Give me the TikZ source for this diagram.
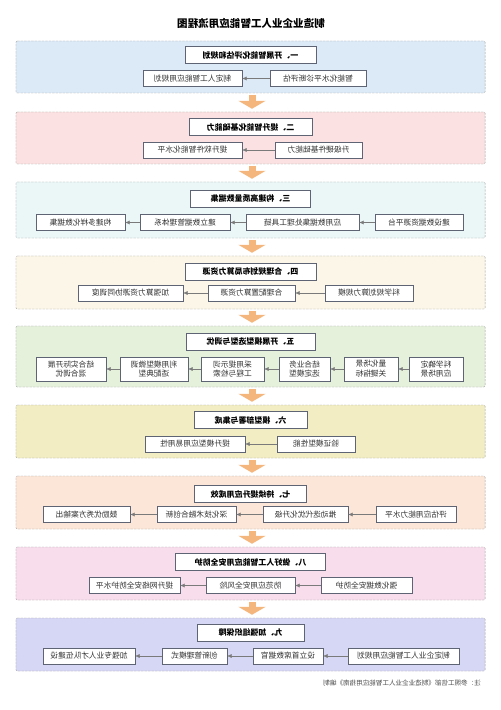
\documentclass[tikz,border=0pt]{standalone}
\usepackage{fontspec}
\setmainfont{Noto Sans CJK SC}
\usepackage{tikz}
\usetikzlibrary{arrows.meta}
\definecolor{boxline}{HTML}{5E6473}
\definecolor{flowgray}{HTML}{7A7A7A}
\definecolor{arroworange}{HTML}{F4B67C}
\definecolor{panelone}{HTML}{DCEAF7}
\definecolor{paneltwo}{HTML}{FBE1E1}
\definecolor{panelthree}{HTML}{EBF7F7}
\definecolor{panelfour}{HTML}{FBF6E7}
\definecolor{panelfive}{HTML}{E6F1DC}
\definecolor{panelsix}{HTML}{F2EDC2}
\definecolor{panelseven}{HTML}{FCE6D7}
\definecolor{paneleight}{HTML}{F8DDEC}
\definecolor{panelnine}{HTML}{D6D6F5}
\tikzstyle{panel} = [draw=gray!75, dash pattern=on 2pt off 1pt, minimum width=14.07cm, inner sep=0pt, rounded corners=1pt]
\tikzstyle{headbox} = [draw=boxline, fill=white, minimum height=0.5cm, inner sep=1pt, font=\bfseries\fontsize{6.8}{8}\selectfont]
\tikzstyle{subbox} = [draw=boxline, fill=white, minimum height=0.48cm, inner sep=1pt, text=black!80, font=\fontsize{6.6}{8}\selectfont]
\tikzstyle{twobox} = [subbox, minimum height=0.72cm, align=center, font=\fontsize{6.6}{8.4}\selectfont]
\tikzstyle{flow} = [draw=flowgray, -{Latex[length=1.3mm,width=1.2mm]}, color=flowgray]
\tikzstyle{bigarrow} = [draw=arroworange, line width=0.21cm, -{Triangle[length=0.24cm,width=0.81cm]}, shorten <=0.06cm, shorten >=0.09cm]

\begin{document}
\begin{tikzpicture}[x=0.03cm, y=-0.03cm, every node/.append style={xscale=-1}]
	\fill[white] (0,0) rectangle (500,710);
	\useasboundingbox (0,0) rectangle (500,710);
	\node[font=\bfseries\fontsize{9}{11}\selectfont] (title) at (251,23) {制造业企业人工智能应用流程图};

	\node[panel, fill=panelone, minimum height=1.56cm] (p1) at (250.5,67) {};
	\node[headbox, minimum width=3.93cm] (h1) at (250.5,55) {一、开展智能化评估和规划};
	\node[subbox, minimum width=2.88cm] (a1) at (318,78.5) {智能化水平诊断评估};
	\node[subbox, minimum width=2.97cm] (a2) at (192.5,78.5) {制定人工智能应用规划};
	\draw[flow] (a1) -- (a2);

	\node[panel, fill=paneltwo, minimum height=1.56cm] (p2) at (250.5,138) {};
	\node[headbox, minimum width=3.69cm] (h2) at (250.5,127) {二、提升智能化基础能力};
	\node[subbox, minimum width=2.61cm] (b1) at (318.5,150) {升级硬件基础能力};
	\node[subbox, minimum width=2.97cm] (b2) at (192.5,150) {提升软件智能化水平};
	\draw[flow] (b1) -- (b2);

	\node[panel, fill=panelthree, minimum height=1.68cm] (p3) at (250.5,210) {};
	\node[headbox, minimum width=3.6cm] (h3) at (250.5,198.5) {三、构建高质量数据集};
	\node[subbox, minimum width=2.64cm] (c1) at (419,222.5) {建设数据资源平台};
	\node[subbox, minimum width=3.39cm] (c2) at (302.5,222.5) {应用数据集处理工具链};
	\node[subbox, minimum width=2.7cm] (c3) at (185,222.5) {建立数据管理体系};
	\node[subbox, minimum width=2.67cm] (c4) at (80.5,222.5) {构建多样化数据集};
	\draw[flow] (c1) -- (c2);
	\draw[flow] (c2) -- (c3);
	\draw[flow] (c3) -- (c4);

	\node[panel, fill=panelfour, minimum height=1.59cm] (p4) at (250.5,282.5) {};
	\node[headbox, minimum width=3.93cm] (h4) at (250.5,271.5) {四、合理规划布局算力资源};
	\node[subbox, minimum width=2.64cm] (d1) at (369,293) {科学规划算力规模};
	\node[subbox, minimum width=2.61cm] (d2) at (251.5,293) {合理配置算力资源};
	\node[subbox, minimum width=3.15cm] (d3) at (130.5,293) {加强算力资源协同调度};
	\draw[flow] (d1) -- (d2);
	\draw[flow] (d2) -- (d3);

	\node[panel, fill=panelfive, minimum height=1.83cm] (p5) at (250.5,356.5) {};
	\node[headbox, minimum width=3.87cm] (h5) at (250.5,341.5) {五、开展模型选型与调优};
	\node[twobox, minimum width=1.62cm] (e1) at (436,369) {科学确定\\应用场景};
	\node[twobox, minimum width=1.62cm] (e2) at (371,369) {量化场景\\关键指标};
	\node[twobox, minimum width=1.53cm] (e3) at (304.5,369) {结合业务\\选定模型};
	\node[twobox, minimum width=1.89cm] (e4) at (232.5,369) {采用提示词\\工程与检索};
	\node[twobox, minimum width=2.04cm] (e5) at (154,369) {利用模型微调\\适配典型};
	\node[twobox, minimum width=2.1cm] (e6) at (71,369) {结合实际开展\\混合调优};
	\draw[flow] (e1) -- (e2);
	\draw[flow] (e2) -- (e3);
	\draw[flow] (e3) -- (e4);
	\draw[flow] (e4) -- (e5);
	\draw[flow] (e5) -- (e6);

	\node[panel, fill=panelsix, minimum height=1.59cm] (p6) at (250.5,431.5) {};
	\node[headbox, minimum width=3.39cm] (h6) at (250.5,420) {六、模型部署与集成};
	\node[subbox, minimum width=2.34cm] (f1) at (316,444) {验证模型性能};
	\node[subbox, minimum width=3.0cm] (f2) at (195,444) {提升模型应用易用性};
	\draw[flow] (f1) -- (f2);

	\node[panel, fill=panelseven, minimum height=1.59cm] (p7) at (250.5,502.5) {};
	\node[headbox, minimum width=3.36cm] (h7) at (250.5,494) {七、持续提升应用成效};
	\node[subbox, minimum width=2.4cm] (g1) at (416,514.5) {评估应用能力水平};
	\node[subbox, minimum width=2.55cm] (g2) at (305.5,514.5) {推动迭代优化升级};
	\node[subbox, minimum width=2.37cm] (g3) at (196.5,514.5) {深化技术融合创新};
	\node[subbox, minimum width=2.61cm] (g4) at (86.5,514.5) {鼓励优秀方案输出};
	\draw[flow] (g1) -- (g2);
	\draw[flow] (g2) -- (g3);
	\draw[flow] (g3) -- (g4);

	\node[panel, fill=paneleight, minimum height=1.59cm] (p8) at (250.5,573.5) {};
	\node[headbox, minimum width=4.5cm] (h8) at (250.5,562) {八、做好人工智能应用安全防护};
	\node[subbox, minimum width=2.73cm] (k1) at (366.5,585.5) {强化数据安全防护};
	\node[subbox, minimum width=2.67cm] (k2) at (250.5,585.5) {防范应用安全风险};
	\node[subbox, minimum width=2.73cm] (k3) at (134.5,585.5) {提升网络安全防护水平};
	\draw[flow] (k1) -- (k2);
	\draw[flow] (k2) -- (k3);

	\node[panel, fill=panelnine, minimum height=1.59cm] (p9) at (250.5,644.5) {};
	\node[headbox, minimum width=3.21cm] (h9) at (250.5,632.5) {九、加强组织保障};
	\node[subbox, minimum width=3.33cm] (m1) at (403.5,656) {制定企业人工智能应用规划};
	\node[subbox, minimum width=2.1cm] (m2) at (288,656) {设立首席数据官};
	\node[subbox, minimum width=1.95cm] (m3) at (194.5,656) {创新管理模式};
	\node[subbox, minimum width=2.76cm] (m4) at (89,656) {加强专业人才队伍建设};
	\draw[flow] (m1) -- (m2);
	\draw[flow] (m2) -- (m3);
	\draw[flow] (m3) -- (m4);

	\draw[bigarrow] (p1.south -| 252,0) -- (p2.north -| 252,0);
	\draw[bigarrow] (p2.south -| 252,0) -- (p3.north -| 252,0);
	\draw[bigarrow] (p3.south -| 252,0) -- (p4.north -| 252,0);
	\draw[bigarrow] (p4.south -| 252,0) -- (p5.north -| 252,0);
	\draw[bigarrow] (p5.south -| 252,0) -- (p6.north -| 252,0);
	\draw[bigarrow] (p6.south -| 252,0) -- (p7.north -| 252,0);
	\draw[bigarrow] (p7.south -| 252,0) -- (p8.north -| 252,0);
	\draw[bigarrow] (p8.south -| 252,0) -- (p9.north -| 252,0);

	\node[anchor=west, text=black!70, font=\fontsize{5.6}{7}\selectfont] (note) at (485,683) {注：参照工信部《制造业企业人工智能应用指南》编制};
\end{tikzpicture}
\end{document}
